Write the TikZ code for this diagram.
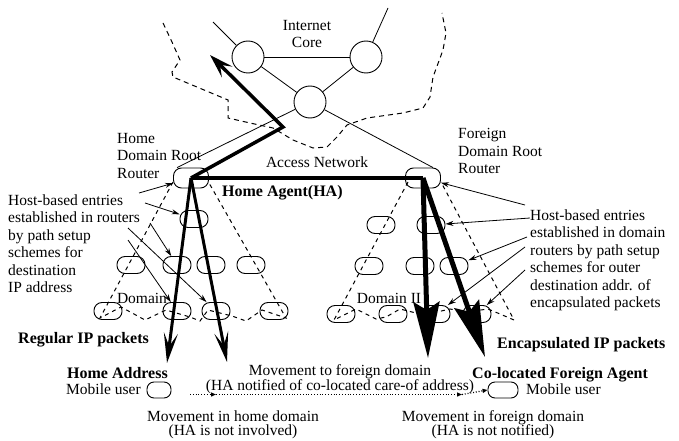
\documentclass[tikz,border=0pt]{standalone}
\usepackage{fontspec}
\setmainfont{Liberation Serif}
\usetikzlibrary{arrows.meta}
\begin{document}
\begin{tikzpicture}[x=1pt,y=-1pt,
  font=\fontsize{15.5}{17.5}\selectfont,
  router/.style={draw, rounded corners=8pt, minimum width=35pt, minimum height=20pt, inner sep=0pt, line width=0.9pt},
  dnode/.style={draw, rounded corners=8pt, minimum width=28pt, minimum height=17pt, inner sep=0pt, line width=0.9pt},
  core/.style={draw, circle, minimum size=32pt, inner sep=0pt, line width=0.9pt},
  mnode/.style={draw, rounded corners=7pt, minimum height=16pt, inner sep=0pt, line width=0.9pt},
  txt/.style={inner sep=0pt, align=left},
  bold/.style={inner sep=0pt, anchor=base west, font=\fontsize{16}{18}\selectfont\bfseries},
  thinline/.style={line width=0.8pt},
  bdash/.style={line width=1pt, dash pattern=on 4pt off 4pt},
  cdash/.style={line width=1pt, dash pattern=on 5pt off 4pt},
  pointer/.style={line width=0.8pt, -{Stealth[length=8pt,width=5pt]}},
  homearrow/.style={line width=3pt, -{Stealth[length=30pt,width=14pt,inset=13pt]}},
  forarrow/.style={line width=5pt, -{Stealth[length=56pt,width=26pt,inset=8pt]}},
  haline/.style={line width=4.5pt},
  uparrow/.style={line width=3.5pt, -{Stealth[length=24pt,width=15pt,inset=10pt]}},
  dotline/.style={line width=1.2pt, dash pattern=on 1pt off 1.8pt, -{Triangle[open,length=5pt,width=4pt]}}
]
\useasboundingbox (0,0) rectangle (679,441);

% Internet core
\node[core] (c1) at (248,57) {};
\node[core] (c2) at (366,57) {};
\node[core] (c3) at (310,102) {};
\coordinate (ul) at (213,22);
\coordinate (ur) at (388,8);
\draw[thinline] (c1) -- (ul);
\draw[thinline] (c2) -- (ur);
\draw[thinline] (c1) -- (c2);
\draw[thinline] (c1) -- (c3);
\draw[thinline] (c2) -- (c3);
\node[txt, align=center, anchor=north] (core) at (307,20) {Internet\\Core};

\draw[cdash] (163,23) -- (172,42) -- (180,60) -- (172,72) -- (173,77) -- (228,100) -- (228,118) -- (250,123) -- (273,128) -- (293,140) -- (313,148) -- (327,147) -- (337,137) -- (347,125) -- (367,118) -- (403,113) -- (423,108) -- (430,97) -- (433,77) -- (443,50) -- (446,33) -- (442,13);

% routers
\node[router] (hr) at (191,178) {};
\node[router] (fr) at (423,178) {};
\draw[thinline] (c3) -- ([xshift=4pt]hr.north west);
\draw[thinline] (c3) -- ([xshift=-8pt]fr.north east);

\node[txt, anchor=north west] (hrl) at (117,133) {Home\\Domain Root\\Router};
\node[txt, anchor=north west] (frl) at (458,128.5) {Foreign\\Domain Root\\Router};
\node[inner sep=0pt, anchor=base] (acc) at (317,167) {Access Network};

% home domain
\draw[bdash] (173,182) -- (100,318) -- (121,307) -- (145,320) -- (166,310) -- (190,317) -- (200,321) -- (208,310) -- (232,316) -- (246,321) -- (262,310) -- (286,318) -- (209,183);
\node[dnode] (h2) at (194,219) {};
\node[dnode] (h31) at (131,265) {};
\node[dnode] (h32) at (177,265) {};
\node[dnode] (h33) at (211,265) {};
\node[dnode] (h34) at (251,265) {};
\node[dnode] (h41) at (108,311) {};
\node[dnode] (h42) at (177,311) {};
\node[dnode] (h43) at (216,311) {};
\node[dnode] (h44) at (274,311) {};
\node[inner sep=0pt, anchor=base] (dom1) at (142,303) {Domain};

% foreign domain
\draw[bdash] (408,182) -- (334,320) -- (356,309) -- (376,319) -- (386,317) -- (400,309) -- (412,312) -- (424,315) -- (450,309) -- (466,312) -- (488,309) -- (500,314) -- (514,320) -- (441,182);
\node[dnode] (f21) at (381,225) {};
\node[dnode] (f22) at (431,225) {};
\node[dnode] (f31) at (369,266) {};
\node[dnode] (f32) at (420,266) {};
\node[dnode] (f33) at (454,266) {};
\node[dnode] (f41) at (341,314) {};
\node[dnode] (f42) at (393,314) {};
\node[dnode] (f43) at (436,314) {};
\node[dnode] (f44) at (477,314) {};
\node[inner sep=0pt, anchor=base] (dom2) at (389,303) {Domain II};

% side texts
\node[txt, anchor=north west] (ltext) at (8,194.5) {Host-based entries\\established in routers\\by path setup\\schemes for\\destination\\IP address};
\node[txt, anchor=north west] (rtext) at (530,209.5) {Host-based entries\\established in domain\\routers by path setup\\schemes for outer\\destination addr. of\\encapsulated packets};

\coordinate (la1) at (139,193);
\coordinate (la2) at (145,203);
\coordinate (la3) at (150,223);
\coordinate (la4) at (128,228);
\coordinate (la5) at (128,240);
\draw[pointer] (la1) -- (hr);
\draw[pointer] (la2) -- (h2);
\draw[pointer] (la3) -- (h32);
\draw[pointer] (la4) -- (h43);
\draw[pointer] (la5) -- (h42);

\coordinate (ra1) at (525,205);
\coordinate (ra2) at (530,218);
\coordinate (ra3) at (527,237);
\coordinate (ra4) at (525,247);
\coordinate (ra5) at (525,270);
\draw[pointer] (ra1) -- (fr);
\draw[pointer] (ra2) -- (f22);
\draw[pointer] (ra3) -- (f33);
\draw[pointer] (ra4) -- (f43);
\draw[pointer] (ra5) -- (f44);

% thick paths
\coordinate (turn) at (283,127);
\coordinate (uptip) at (210,55);
\draw[uparrow, line join=miter] (hr.center) -- (turn) -- (uptip);
\draw[haline] (hr.center) -- (fr.center);
\node[bold] (ha) at (222,196) {Home Agent(HA)};

\coordinate (ht1) at (167,363);
\coordinate (ht2) at (227,362);
\draw[homearrow] (hr.center) -- (ht1);
\draw[homearrow] (hr.center) -- (ht2);

\coordinate (ft1) at (428,358);
\coordinate (ft2) at (485,357);
\draw[forarrow] (fr.center) -- (ft1);
\draw[forarrow] (fr.center) -- (ft2);

% bottom labels
\node[bold] (rip) at (18,343) {Regular IP packets};
\node[bold] (eip) at (497,348) {Encapsulated IP packets};
\node[bold] (haddr) at (67,378) {Home Address};
\node[bold] (cfa) at (472,378) {Co-located Foreign Agent};
\node[inner sep=0pt, anchor=base west] (mu1) at (66,394) {Mobile user};
\node[inner sep=0pt, anchor=base west] (mu2) at (526,394) {Mobile user};
\node[mnode, minimum width=24pt] (ml) at (159,390) {};
\node[mnode, minimum width=30pt] (mr) at (503,390) {};

\node[inner sep=0pt, anchor=base] (mv1) at (340,375.5) {Movement to foreign domain};
\node[inner sep=0pt, anchor=base] (mv2) at (340,390.5) {(HA notified of co-located care-of address)};
\node[inner sep=0pt, anchor=base] (mh1) at (233,421) {Movement in home domain};
\node[inner sep=0pt, anchor=base] (mh2) at (233,435) {(HA is not involved)};
\node[inner sep=0pt, anchor=base] (mf1) at (493,421) {Movement in foreign domain};
\node[inner sep=0pt, anchor=base] (mf2) at (493,435) {(HA is not notified)};

\coordinate (mvL) at (190,394.5);
\coordinate (mvA) at (216,394.5);
\coordinate (mvB) at (462,394.5);
\draw[dotline] (mvL) -- (mvA);
\draw[dotline] (mvA) -- (mvB);
\draw[dotline] (mvB) -- (mr.west);
\end{tikzpicture}
\end{document}
